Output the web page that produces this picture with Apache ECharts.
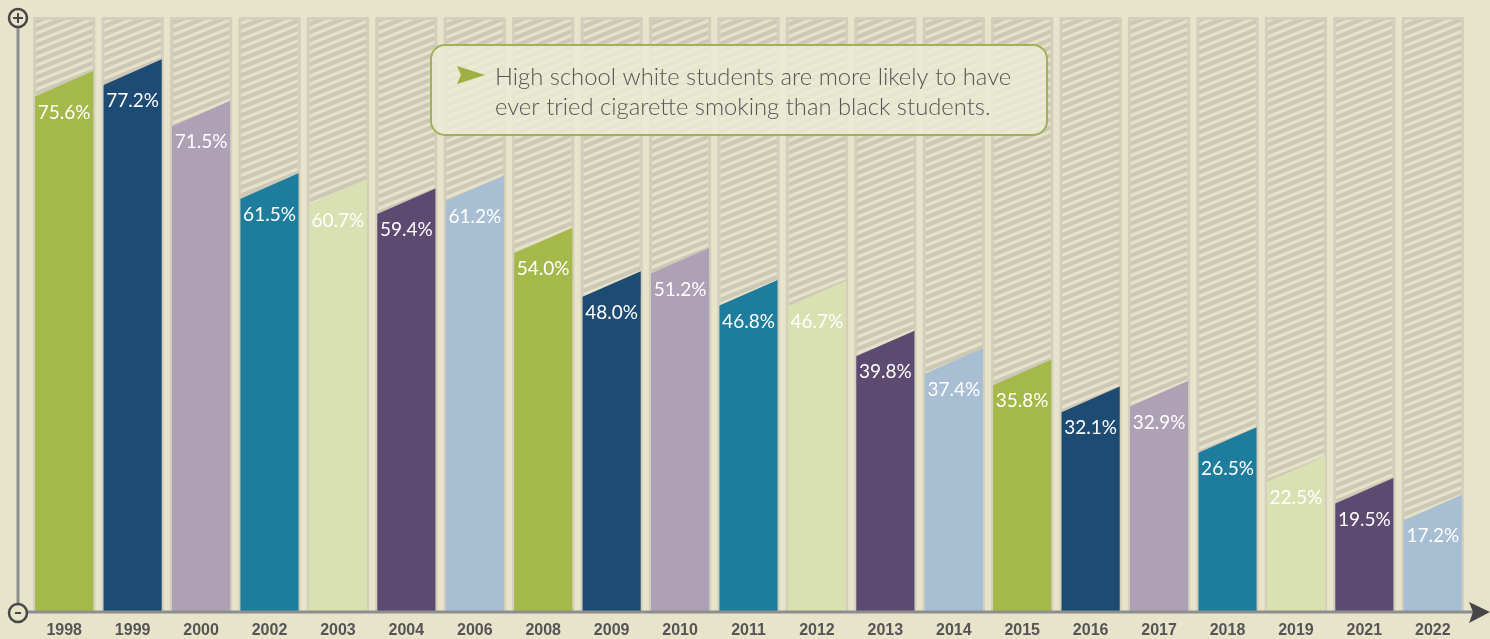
<!DOCTYPE html>
<html>
<head>
<meta charset="utf-8">
<script src="https://cdn.jsdelivr.net/npm/echarts@6/dist/echarts.min.js"></script>
<style>
html,body{margin:0;padding:0;background:#e8e3cb;}
#chart{width:1490px;height:639px;}
</style>
</head>
<body>
<div id="chart"></div>
<script>
const years = ['1998','1999','2000','2002','2003','2004','2006','2008','2009','2010','2011','2012','2013','2014','2015','2016','2017','2018','2019','2021','2022'];
const values = [75.6,77.2,71.5,61.5,60.7,59.4,61.2,54.0,48.0,51.2,46.8,46.7,39.8,37.4,35.8,32.1,32.9,26.5,22.5,19.5,17.2];
const palette = ['#a4b94a','#1d4b73','#aea1b6','#1e7c9c','#d9e0b1','#5c4a70','#a7bed3'];
const noteLines = ['High school white students are more likely to have','ever tried cigarette smoking than black students.'];

const Y_MIN = 2.8, Y_MAX = 84.8;
const GRID = {left: 30, right: 23, top: 17, bottom: 27};

// hatch pattern
const pc = document.createElement('canvas');
pc.width = 20; pc.height = 8;
const pctx = pc.getContext('2d');
pctx.fillStyle = '#ccc8b6';
pctx.fillRect(0,0,20,8);
pctx.strokeStyle = '#e6e1c8';
pctx.lineWidth = 3.2;
for (const off of [-8,0,8]) {
  pctx.beginPath();
  pctx.moveTo(-2, 8 + off + 0.8);
  pctx.lineTo(22, 0 + off - 0.8);
  pctx.stroke();
}
const hatch = {image: pc, repeat: 'repeat'};

const chart = echarts.init(document.getElementById('chart'));

function renderColumn(params, api) {
  const i = api.value(0);
  const top = api.coord([i, Y_MAX]);
  const bot = api.coord([i, Y_MIN]);
  const bw = api.size([1, 0])[0];
  const half = bw * 0.455;
  return {
    type: 'group',
    children: [
      {type: 'rect', shape: {x: top[0]-half, y: top[1], width: half*2, height: bot[1]-top[1]}, style: {fill: '#d3cfbc'}},
      {type: 'rect', shape: {x: top[0]-half+3, y: top[1]+3, width: half*2-6, height: bot[1]-top[1]-3}, style: {fill: hatch}}
    ]
  };
}

function renderBar(params, api) {
  const i = api.value(0);
  const v = api.value(1);
  const mid = api.coord([i, v]);
  const bot = api.coord([i, Y_MIN]);
  const bw = api.size([1, 0])[0];
  const half = bw * 0.425;
  const slant = 12.8;
  const cx = mid[0];
  return {
    type: 'group',
    children: [
      {type: 'polygon', shape: {points: [[cx-half, bot[1]], [cx-half, mid[1]+slant], [cx+half, mid[1]-slant], [cx+half, bot[1]]]},
        style: {fill: palette[i % palette.length]}},
      {type: 'text', style: {text: v.toFixed(1) + '%', x: cx, y: mid[1]+slant+16, align: 'center', verticalAlign: 'middle',
        fill: '#ffffff', fontSize: 19, fontFamily: 'Lato', fontWeight: 400}}
    ]
  };
}

const option = {
  backgroundColor: '#e8e3cb',
  animation: false,
  grid: GRID,
  xAxis: {
    type: 'category', data: years,
    axisLine: {show: false}, axisTick: {show: false},
    axisLabel: {color: '#555555', fontSize: 16, fontWeight: 'bold', fontFamily: 'Liberation Sans', margin: 11}
  },
  yAxis: {type: 'value', min: Y_MIN, max: Y_MAX, show: false},
  series: [
    {type: 'custom', renderItem: renderColumn, data: years.map((y, i) => [i, Y_MAX]), silent: true, z: 1},
    {type: 'custom', renderItem: renderBar, data: values.map((v, i) => [i, v]), silent: true, z: 2}
  ]
};
chart.setOption(option);

// decorations: axes, end markers, annotation
const origin = chart.convertToPixel({xAxisIndex: 0, yAxisIndex: 0}, [0, Y_MIN]);
const topPt = chart.convertToPixel({xAxisIndex: 0, yAxisIndex: 0}, [0, Y_MAX]);
const yb = origin[1];
const yt = topPt[1];
const ax = 18;
const axisColor = '#8e8e8e';
const dark = '#474747';
const r = 9;
chart.setOption({
  graphic: [
    {type: 'line', shape: {x1: ax, y1: yt + r, x2: ax, y2: yb - r}, style: {stroke: axisColor, lineWidth: 3}, z: 10},
    {type: 'line', shape: {x1: ax + r, y1: yb, x2: 1474, y2: yb}, style: {stroke: axisColor, lineWidth: 3}, z: 10},
    {type: 'polygon', shape: {points: [[1469, yb-10], [1490, yb], [1469, yb+11], [1473, yb]]}, style: {fill: dark}, z: 11},
    {type: 'circle', shape: {cx: ax, cy: yt + 1, r: r}, style: {fill: 'none', stroke: dark, lineWidth: 2.5}, z: 11},
    {type: 'line', shape: {x1: ax-5, y1: yt+1, x2: ax+5, y2: yt+1}, style: {stroke: dark, lineWidth: 2}, z: 11},
    {type: 'line', shape: {x1: ax, y1: yt-4, x2: ax, y2: yt+6}, style: {stroke: dark, lineWidth: 2}, z: 11},
    {type: 'circle', shape: {cx: ax, cy: yb + 1, r: r}, style: {fill: 'none', stroke: dark, lineWidth: 2.5}, z: 11},
    {type: 'line', shape: {x1: ax-3, y1: yb+1, x2: ax+3, y2: yb+1}, style: {stroke: dark, lineWidth: 2}, z: 11},
    {type: 'rect', shape: {x: 431, y: 45, width: 616, height: 90, r: 14}, style: {fill: 'rgba(236,235,214,0.82)', stroke: '#9fb256', lineWidth: 2}, z: 20},
    {type: 'polygon', shape: {points: [[457, 66], [485, 75], [457, 84], [461, 75]]}, style: {fill: '#9db041'}, z: 21},
    {type: 'text', style: {text: noteLines[0], x: 495, y: 77, verticalAlign: 'middle', fill: '#555555', fontSize: 23.8, fontFamily: 'Lato', fontWeight: 300}, z: 21},
    {type: 'text', style: {text: noteLines[1], x: 495, y: 107, verticalAlign: 'middle', fill: '#555555', fontSize: 23.8, fontFamily: 'Lato', fontWeight: 300}, z: 21}
  ]
});
</script>
</body>
</html>
